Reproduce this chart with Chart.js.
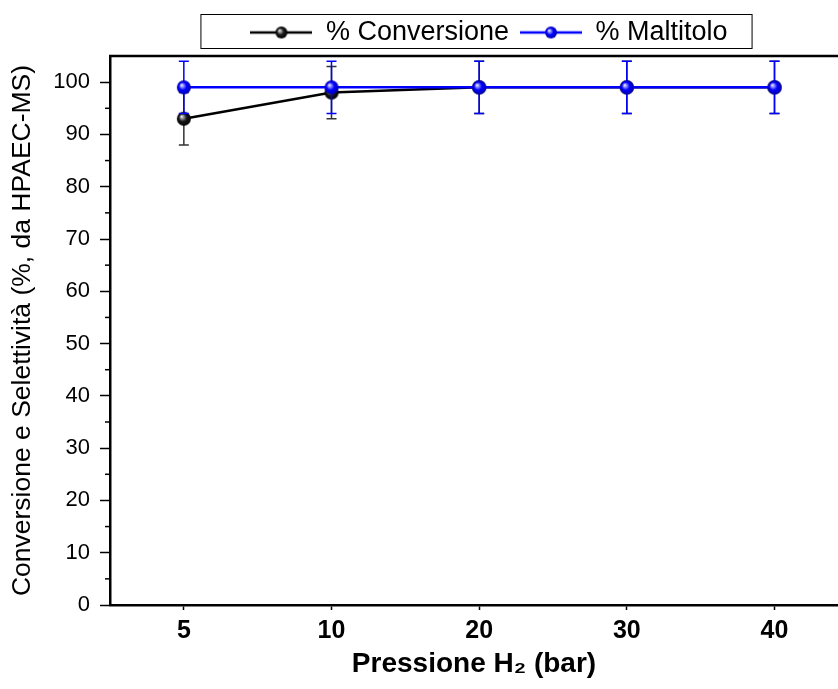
<!DOCTYPE html>
<html>
<head>
<meta charset="utf-8">
<script src="https://cdn.jsdelivr.net/npm/chart.js@4"></script>
<style>
  body { margin: 0; background: #fff; }
</style>
</head>
<body>
<canvas id="chart" width="838" height="689"></canvas>
<script>
const pressures = ['5', '10', '20', '30', '40'];
const conversion = [93, 98, 99, 99, 99];
const conversionErr = [5, 5, 5, 5, 5];
const maltitolo = [99, 99, 99, 99, 99];
const maltitoloErr = [5, 5, 5, 5, 5];
const yTicks = [0, 10, 20, 30, 40, 50, 60, 70, 80, 90, 100];

// shaded ball markers
function sphere(stops, r) {
    const cv = document.createElement('canvas');
    cv.width = cv.height = r * 2 + 2;
    const ctx = cv.getContext('2d');
    const c = r + 1;
    const g = ctx.createRadialGradient(c - r * 0.35, c - r * 0.35, 0, c, c, r);
    stops.forEach(([p, col]) => g.addColorStop(p, col));
    ctx.beginPath();
    ctx.arc(c, c, r, 0, Math.PI * 2);
    ctx.fillStyle = g;
    ctx.fill();
    return cv;
}

function legendIcon(color, ball) {
    const cv = document.createElement('canvas');
    cv.width = 62;
    cv.height = 16;
    const ctx = cv.getContext('2d');
    ctx.strokeStyle = color;
    ctx.lineWidth = 2.5;
    ctx.beginPath();
    ctx.moveTo(0, 8);
    ctx.lineTo(62, 8);
    ctx.stroke();
    ctx.drawImage(ball, 31 - ball.width / 2, 8 - ball.height / 2);
    return cv;
}

const blackStops = [[0, '#ffffff'], [0.25, '#999999'], [0.55, '#1a1a1a'], [1, '#000000']];
const blueStops = [[0, '#ffffff'], [0.25, '#8f8fff'], [0.55, '#0000ff'], [1, '#0000b0']];
const blackBall = sphere(blackStops, 7);
const blueBall = sphere(blueStops, 7);
const legendIcons = [legendIcon('#000000', sphere(blackStops, 6)), legendIcon('#0000ff', sphere(blueStops, 6))];

const errorBars = {
    id: 'errorBars',
    beforeDatasetDraw(chart, args) {
        const ds = chart.data.datasets[args.index];
        const y = chart.scales.y;
        const ctx = chart.ctx;
        ctx.save();
        ctx.strokeStyle = ds.errorColor;
        ctx.lineWidth = 1.5;
        args.meta.data.forEach((pt, i) => {
            const v = ds.data[i].y;
            const top = y.getPixelForValue(v + ds.errors[i]);
            const bot = y.getPixelForValue(v - ds.errors[i]);
            ctx.beginPath();
            ctx.moveTo(pt.x, top);
            ctx.lineTo(pt.x, bot);
            ctx.moveTo(pt.x - 5, top);
            ctx.lineTo(pt.x + 5, top);
            ctx.moveTo(pt.x - 5, bot);
            ctx.lineTo(pt.x + 5, bot);
            ctx.stroke();
        });
        ctx.restore();
    }
};

const frame = {
    id: 'frame',
    afterLayout(chart) {
        // legend sits a little right of centre in the original
        chart.legend.left += 15;
        chart.legend.right += 15;
    },
    afterDraw(chart) {
        const { ctx, chartArea } = chart;
        const y = chart.scales.y;
        ctx.save();
        ctx.strokeStyle = '#000';
        ctx.lineWidth = 2.5;
        ctx.beginPath();
        ctx.moveTo(chartArea.left - 1, chartArea.top);
        ctx.lineTo(chartArea.right, chartArea.top);
        ctx.stroke();
        // minor y ticks
        ctx.lineWidth = 1.5;
        for (let v = 5; v < 100; v += 10) {
            const py = y.getPixelForValue(v);
            ctx.beginPath();
            ctx.moveTo(chartArea.left - 5, py);
            ctx.lineTo(chartArea.left, py);
            ctx.stroke();
        }
        // legend frame
        const boxes = chart.legend.legendHitBoxes;
        if (boxes && boxes.length) {
            const l = boxes[0].left - 50;
            const r = boxes[boxes.length - 1].left + boxes[boxes.length - 1].width + 24;
            const t = 14;
            const b = 48;
            ctx.lineWidth = 1;
            ctx.strokeRect(l + 0.5, t + 0.5, r - l, b - t);
        }
        ctx.restore();
    }
};

new Chart(document.getElementById('chart'), {
    type: 'line',
    data: {
        datasets: [
            {
                label: '% Conversione',
                data: conversion.map((v, i) => ({ x: i, y: v })),
                errors: conversionErr,
                errorColor: '#333333',
                borderColor: '#000000',
                backgroundColor: '#000000',
                borderWidth: 2.5,
                pointStyle: blackBall,
                pointRadius: 7,
                order: 1
            },
            {
                label: '% Maltitolo',
                data: maltitolo.map((v, i) => ({ x: i, y: v })),
                errors: maltitoloErr,
                errorColor: '#0000ff',
                borderColor: '#0000ff',
                backgroundColor: '#0000ff',
                borderWidth: 2.5,
                pointStyle: blueBall,
                pointRadius: 7,
                order: 0
            }
        ]
    },
    options: {
        responsive: false,
        animation: false,
        layout: { autoPadding: false, padding: { top: 8, right: 0, bottom: 0, left: 0 } },
        plugins: {
            tooltip: { enabled: false },
            legend: {
                position: 'top',
                fullSize: false,
                labels: {
                    color: '#000',
                    font: { family: "'Liberation Sans', Arial, sans-serif", size: 27 },
                    usePointStyle: true,
                    pointStyleWidth: 62,
                    padding: 11,
                    sort: (a, b) => a.datasetIndex - b.datasetIndex,
                    generateLabels: (chart) => Chart.defaults.plugins.legend.labels.generateLabels(chart)
                        .map(item => ({ ...item, pointStyle: legendIcons[item.datasetIndex] }))
                }
            }
        },
        scales: {
            x: {
                type: 'linear',
                min: -0.5,
                max: 4.43,
                afterBuildTicks: (scale) => {
                    scale.ticks = pressures.map((p, i) => ({ value: i }));
                },
                afterFit: (scale) => { scale.height = 84; },
                ticks: {
                    color: '#000',
                    font: { family: "'Liberation Sans', Arial, sans-serif", size: 25, weight: 'bold' },
                    padding: 6,
                    maxRotation: 0,
                    callback: (v) => pressures[v]
                },
                grid: { drawOnChartArea: false, tickLength: 5, tickColor: '#000', tickWidth: 1.5 },
                border: { color: '#000', width: 2.5 },
                title: {
                    display: true,
                    text: 'Pressione H₂ (bar)',
                    color: '#000',
                    font: { family: "'Liberation Sans', Arial, sans-serif", size: 28, weight: 'bold' },
                    padding: { top: 0, bottom: 8 }
                }
            },
            y: {
                min: 0,
                max: 105,
                afterBuildTicks: (scale) => {
                    scale.ticks = yTicks.map(v => ({ value: v }));
                },
                afterFit: (scale) => { scale.width = 110; },
                ticks: {
                    color: '#000',
                    font: { family: "'Liberation Sans', Arial, sans-serif", size: 22 },
                    padding: 10
                },
                grid: { drawOnChartArea: false, tickLength: 10, tickColor: '#000', tickWidth: 1.5 },
                border: { color: '#000', width: 2.5 },
                title: {
                    display: true,
                    text: 'Conversione e Selettività (%, da HPAEC-MS)',
                    color: '#000',
                    font: { family: "'Liberation Sans', Arial, sans-serif", size: 26.5 },
                    padding: { top: 7, bottom: 0 }
                }
            }
        }
    },
    plugins: [errorBars, frame]
});
</script>
</body>
</html>
